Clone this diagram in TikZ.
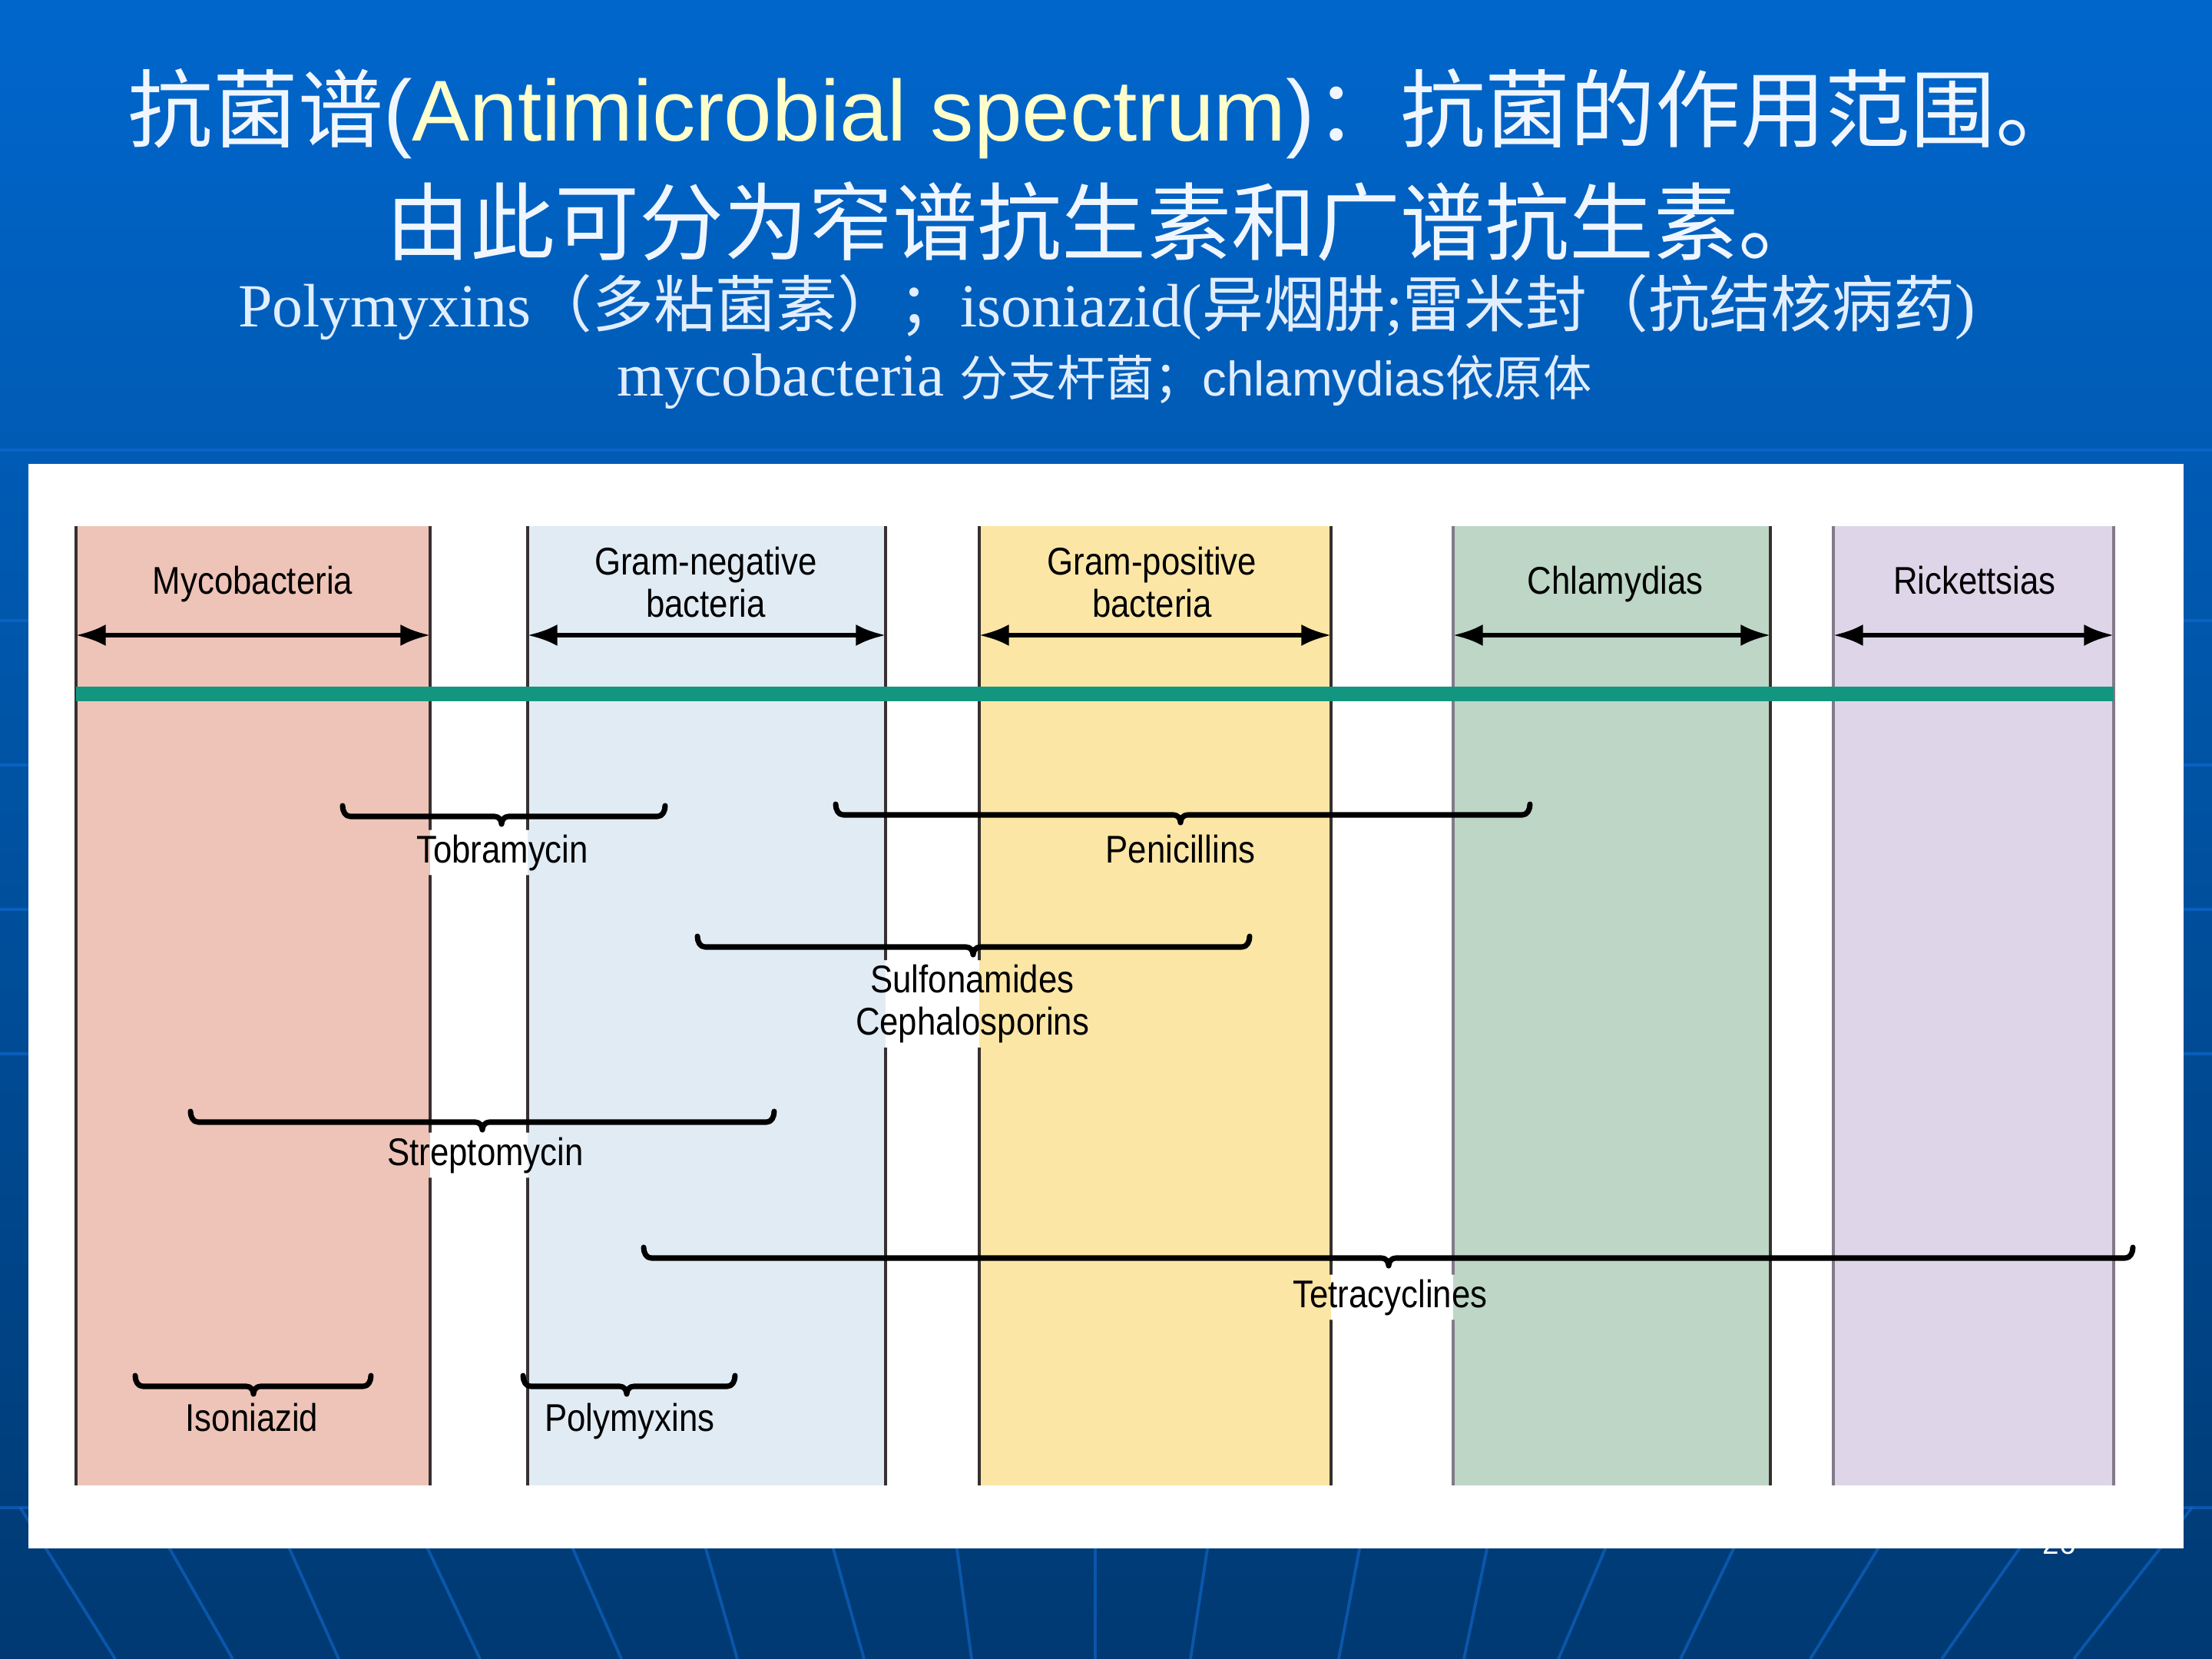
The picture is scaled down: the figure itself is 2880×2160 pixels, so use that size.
\documentclass[tikz,border=0pt]{standalone}
\usepackage{fontspec}
\usetikzlibrary{arrows.meta}
\setmainfont{Liberation Sans}
\newfontfamily\cjkf{Noto Sans CJK SC}
\newfontfamily\serf{Liberation Serif}
\newfontfamily\arl{Liberation Sans}
\newfontfamily\narrowf[FakeStretch=0.87]{Liberation Sans}
\definecolor{bgtop}{RGB}{0,102,204}
\definecolor{bgmid}{RGB}{0,85,168}
\definecolor{bglow}{RGB}{0,58,116}
\definecolor{bgdeep}{RGB}{0,44,88}
\definecolor{bgbot}{RGB}{0,38,76}
\definecolor{gridc}{RGB}{20,110,215}
\definecolor{ttl}{RGB}{240,246,255}
\definecolor{ttlyel}{RGB}{255,255,204}
\definecolor{subc}{RGB}{225,238,255}
\definecolor{mycof}{RGB}{238,196,184}
\definecolor{gnegf}{RGB}{225,235,244}
\definecolor{gposf}{RGB}{251,230,166}
\definecolor{chlaf}{RGB}{189,214,198}
\definecolor{rickf}{RGB}{222,214,232}
\definecolor{tealband}{RGB}{18,150,128}
\definecolor{edgec}{RGB}{55,48,48}
\definecolor{edgeg}{RGB}{130,122,138}
\pgfdeclareverticalshading{slidebg}{100bp}{color(0bp)=(bgbot); color(9bp)=(bgdeep); color(26bp)=(bglow); color(54bp)=(bgmid); color(75bp)=(bgtop); color(100bp)=(bgtop)}
\newcommand\drugbrace[4]{% x1 x2 xc y
  \draw[bracket] (#1,#4-14) to[out=-90,in=180] (#1+10,#4) -- (#3-9,#4)
    to[out=0,in=90] (#3,#4+10) to[out=90,in=180] (#3+9,#4) -- (#2-10,#4)
    to[out=0,in=-90] (#2,#4-14);}
\begin{document}
\begin{tikzpicture}[x=0.01cm,y=-0.01cm,
  lab/.style={font=\narrowf\fontsize{14.3pt}{15.6pt}\selectfont, inner sep=1.5pt, align=center, text=black},
  edge/.style={line width=0.9pt},
  dblarrow/.style={line width=1.7pt, {Latex[length=11pt,width=8pt]}-{Latex[length=11pt,width=8pt]}},
  bracket/.style={line width=2pt, line join=round, line cap=round},
  ttlnode/.style={inner sep=0pt, text=ttl},
  subnode/.style={inner sep=0pt, text=subc},
  gridline/.style={draw=gridc, draw opacity=0.55, line width=1.1pt}]
\useasboundingbox (0,0) rectangle (2880,2160);
% background
\shade[shading=slidebg] (0,0) rectangle (2880,2160);
\foreach \yy in {586,808,996,1184,1372,1963}
  \draw[gridline] (0,\yy) -- (2880,\yy);
\foreach \xt/\xb in {60/150,221/303,377/441,557/625,746/809,919/960,1085/1125,1246/1265,1426/1426,1572/1550,1770/1743,1936/1906,2090/2029,2257/2188,2445/2357,2629/2528,2812/2700}
  \draw[gridline] ({\xt-0.373*(\xb-\xt)},1963) -- (\xb,2160);
% titles
\node[ttlnode] (t1) at (1438,148) {\fontsize{31.5pt}{36pt}\selectfont{\cjkf 抗菌谱}{\arl\fontsize{32pt}{36pt}\selectfont(\textcolor{ttlyel}{Antimicrobial spectrum})}{\cjkf ：抗菌的作用范围。}};
\node[ttlnode] (t2) at (1438,289) {\fontsize{31.3pt}{36pt}\selectfont\cjkf 由此可分为窄谱抗生素和广谱抗生素。};
\node[subnode] (t3) at (1441,400) {\fontsize{22.7pt}{28pt}\selectfont{\serf Polymyxins}{\cjkf （多粘菌素）；}{\serf isoniazid(}{\cjkf 异烟肼}{\serf ;}{\cjkf 雷米封（抗结核病药}{\serf )}};
\node[subnode] (t4) at (1438,497) {{\serf\fontsize{22.5pt}{28pt}\selectfont mycobacteria }{\fontsize{18pt}{24pt}\selectfont{\cjkf 分支杆菌；}{\arl chlamydias}{\cjkf 依原体}}};
% page number (mostly hidden by the panel)
\node[font=\arl\fontsize{11pt}{13pt}\selectfont, text=white, anchor=base, inner sep=0pt] (pgnum) at (2681,2023) {26};
% white panel
\fill[white] (37,604) rectangle (2843,2016);
% columns
\foreach \n/\a/\b/\c in {myco/99/560/mycof,gneg/687/1153/gnegf,gpos/1275/1733/gposf,chla/1892/2305/chlaf,rick/2387/2752/rickf}{
  \fill[\c] (\a,685) rectangle (\b,1934);
  \coordinate (\n-l) at (\a,827);
  \coordinate (\n-r) at (\b,827);
}
% headers
\node[lab, anchor=base] (hmyco) at (329,773) {Mycobacteria};
\node[lab] (hgneg) at (919,758) {Gram-negative\\bacteria};
\node[lab] (hgpos) at (1500,758) {Gram-positive\\bacteria};
\node[lab, anchor=base] (hchla) at (2103,773) {Chlamydias};
\node[lab, anchor=base] (hrick) at (2571,773) {Rickettsias};
% drug labels
\node[lab, anchor=base] (tobra) at (654,1123) {Tobramycin};
\node[lab, anchor=base] (peni) at (1537,1123) {Penicillins};
\node[lab] (sulfa) at (1266,1307) {Sulfonamides\\Cephalosporins};
\node[lab, anchor=base] (strep) at (632,1517) {Streptomycin};
\node[lab, anchor=base] (tetra) at (1810,1702) {Tetracyclines};
\node[lab, anchor=base] (isoni) at (328,1863) {Isoniazid};
\node[lab, anchor=base] (polym) at (820,1863) {Polymyxins};
% column edges, interrupted behind the drug labels
\begin{scope}[even odd rule]
  \clip (0,0) rectangle (2880,2160)
    (tobra.south west) rectangle (tobra.north east)
    (peni.south west) rectangle (peni.north east)
    (sulfa.south west) rectangle (sulfa.north east)
    (strep.south west) rectangle (strep.north east)
    (tetra.south west) rectangle (tetra.north east)
    (isoni.south west) rectangle (isoni.north east)
    (polym.south west) rectangle (polym.north east);
  \foreach \a/\c in {99/edgec,560/edgec,687/edgec,1153/edgec,1275/edgec,1733/edgec,1892/edgeg,2305/edgec,2387/edgeg,2752/edgeg}
    \draw[edge, draw=\c] (\a,685) -- (\a,1934);
\end{scope}
% teal band
\fill[tealband] (99,894) rectangle (2752,913);
% range arrows
\foreach \n in {myco,gneg,gpos,chla,rick}
  \draw[dblarrow] (\n-l) -- (\n-r);
% spectrum brackets
\drugbrace{446}{866}{653}{1063}
\drugbrace{1088}{1992}{1537}{1061}
\drugbrace{908}{1627}{1267}{1233}
\drugbrace{248}{1008}{628}{1461}
\drugbrace{838}{2777}{1808}{1638}
\drugbrace{176}{483}{330}{1805}
\drugbrace{681}{957}{816}{1805}
\end{tikzpicture}
\end{document}
